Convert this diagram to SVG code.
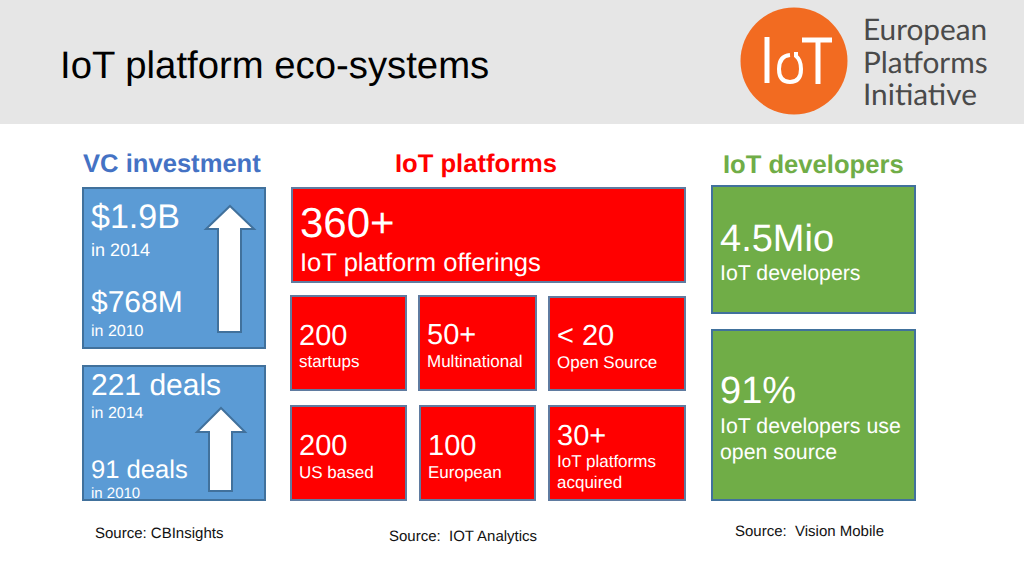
<svg xmlns="http://www.w3.org/2000/svg" width="1024" height="576" viewBox="0 0 1024 576">
<style>
text{font-family:"Liberation Sans",Arial,sans-serif;text-rendering:geometricPrecision;white-space:pre}
.w{fill:#fff}
.box{stroke-width:2}
.b{fill:#5b9bd5;stroke:#41719c}
.r{fill:#ff0000;stroke:#5f7ba0}
.g{fill:#70ad47;stroke:#41719c}
.arrow{fill:#fff;stroke:#41719c;stroke-width:2}
.h{font-size:25.6px;font-weight:bold}
.src{font-size:15px;fill:#111}
.logo{font-family:Lato,"Open Sans",sans-serif;font-size:29.8px;fill:#4a4a4a}
</style>
<rect width="1024" height="124" fill="#e6e6e6"/>
<text x="60" y="78" font-size="38.3" fill="#000">IoT platform eco-systems</text>
<g id="logo">
<circle cx="794" cy="61" r="53.5" fill="#f26b21"/>
<g fill="none" stroke="#fff" stroke-width="5">
<path d="M767 37V83"/>
<path d="M790 55Q779 56 779 69Q779 82 790 82Q801 82 801 69Q801 60 796 56V52" stroke-width="4"/>
<path d="M802 40H832M818 40V84"/>
</g>
<text class="logo" x="863" y="40">European</text>
<text class="logo" x="863" y="73">Platforms</text>
<text class="logo" x="863" y="105">Initiative</text>
</g>
<g id="head-vc"><text class="h" x="83" y="172" fill="#4472c4">VC investment</text></g>
<g id="head-iot"><text class="h" x="395" y="172" fill="#ff0000">IoT platforms</text></g>
<g id="head-dev"><text class="h" x="723" y="173" fill="#70ad47">IoT developers</text></g>
<g id="vc1">
<rect class="box b" x="83" y="188" width="182" height="160"/>
<path class="arrow" d="M230 206L254 229H241V332H218V229H206Z"/>
<text class="w" x="91" y="228" font-size="34">$1.9B</text>
<text class="w" x="91" y="256" font-size="18">in 2014</text>
<text class="w" x="91" y="312" font-size="30">$768M</text>
<text class="w" x="91" y="336" font-size="16">in 2010</text>
</g>
<g id="vc2">
<rect class="box b" x="83" y="366" width="182" height="134"/>
<path class="arrow" d="M221 408L245 432H232V491H209V432H197Z"/>
<text class="w" x="91" y="395" font-size="30">221 deals</text>
<text class="w" x="91" y="418" font-size="16">in 2014</text>
<text class="w" x="91" y="478" font-size="25.6">91 deals</text>
<text class="w" x="91" y="498" font-size="15">in 2010</text>
</g>
<g id="p360">
<rect class="box r" x="292" y="188" width="393" height="94"/>
<text class="w" x="300" y="237" font-size="42">360+</text>
<text class="w" x="300" y="271" font-size="25.6">IoT platform offerings</text>
</g>
<g id="p-startups">
<rect class="box r" x="291" y="296" width="115" height="94"/>
<text class="w" x="299" y="345" font-size="29">200</text>
<text class="w" x="299" y="367" font-size="17">startups</text>
</g>
<g id="p-multi">
<rect class="box r" x="419" y="296" width="117" height="94"/>
<text class="w" x="427" y="344" font-size="29">50+</text>
<text class="w" x="427" y="367" font-size="17">Multinational</text>
</g>
<g id="p-open">
<rect class="box r" x="549" y="297" width="136" height="93"/>
<text class="w" x="557" y="345" font-size="29">&lt; 20</text>
<text class="w" x="557" y="368" font-size="17">Open Source</text>
</g>
<g id="p-us">
<rect class="box r" x="291" y="406" width="115" height="94"/>
<text class="w" x="299" y="455" font-size="29">200</text>
<text class="w" x="299" y="478" font-size="17">US based</text>
</g>
<g id="p-eu">
<rect class="box r" x="420" y="406" width="115" height="94"/>
<text class="w" x="428" y="455" font-size="29">100</text>
<text class="w" x="428" y="478" font-size="17">European</text>
</g>
<g id="p-acq">
<rect class="box r" x="549" y="406" width="136" height="94"/>
<text class="w" x="557" y="445" font-size="29">30+</text>
<text class="w" x="557" y="467" font-size="17">IoT platforms</text>
<text class="w" x="557" y="488" font-size="17">acquired</text>
</g>
<g id="dev1">
<rect class="box g" x="712" y="186" width="203" height="127"/>
<text class="w" x="720" y="251" font-size="38">4.5Mio</text>
<text class="w" x="720" y="280" font-size="21.3">IoT developers</text>
</g>
<g id="dev2">
<rect class="box g" x="712" y="330" width="203" height="170"/>
<text class="w" x="720" y="403" font-size="38">91%</text>
<text class="w" x="720" y="433" font-size="21.3">IoT developers use</text>
<text class="w" x="720" y="459" font-size="21.3">open source</text>
</g>
<g id="sources">
<text class="src" x="95" y="538">Source: CBInsights</text>
<text class="src" x="389" y="541">Source:  IOT Analytics</text>
<text class="src" x="735" y="536">Source:  Vision Mobile</text>
</g>
</svg>
